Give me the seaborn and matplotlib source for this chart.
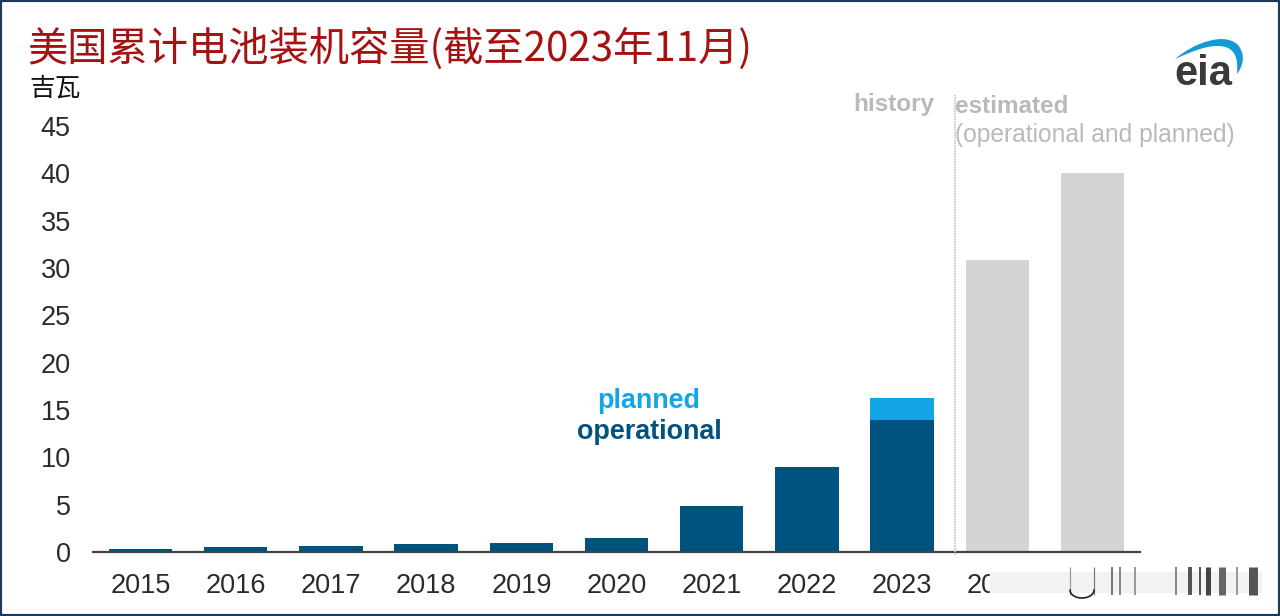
import numpy as np
import pandas as pd
import matplotlib.pyplot as plt
from matplotlib.patches import Rectangle, PathPatch
from matplotlib.path import Path
import seaborn as sns

years = ['2015', '2016', '2017', '2018', '2019', '2020', '2021', '2022', '2023', '2024', '2025']
operational = [0.35, 0.5, 0.6, 0.8, 1.0, 1.45, 4.9, 9.0, 13.9, 0, 0]
planned = [0, 0, 0, 0, 0, 0, 0, 0, 2.4, 0, 0]
estimated = [0, 0, 0, 0, 0, 0, 0, 0, 0, 30.8, 40.0]
yticks = [0, 5, 10, 15, 20, 25, 30, 35, 40, 45]

dark_blue = '#00537f'
light_blue = '#12a5e8'
grey_bar = '#d4d4d4'
grey_text = '#b9b9b9'
W, H = 1280, 616

sns.set_theme(style='white')
plt.rcParams['font.family'] = ['Liberation Sans', 'Noto Sans CJK SC', 'DejaVu Sans']

df = pd.DataFrame({'year': years, 'operational': operational, 'planned': planned, 'estimated': estimated})
df['total'] = df['operational'] + df['planned']

fig = plt.figure(figsize=(12.8, 6.16), dpi=100, facecolor='white')
ax = fig.add_axes([93 / W, 1 - 552 / H, (1140 - 93) / W, (552 - 126) / H])

bar_kw = dict(width=0.665, saturation=1, linewidth=0, edgecolor='none', ax=ax)
sns.barplot(data=df, x='year', y='total', color=light_blue, **bar_kw)
sns.barplot(data=df, x='year', y='operational', color=dark_blue, **bar_kw)
sns.barplot(data=df, x='year', y='estimated', color=grey_bar, **bar_kw)

ax.set_xlim(-0.5, 10.5)
ax.set_ylim(0, 45)
ax.set_yticks(yticks)
ax.set_xlabel('')
ax.set_ylabel('')
ax.tick_params(axis='x', labelsize=19.5, labelcolor='#2b2b2b', length=0, pad=15)
ax.tick_params(axis='y', labelsize=19.5, labelcolor='#2b2b2b', length=0, pad=16)
sns.despine(ax=ax, left=True)
ax.spines['bottom'].set_color('#444444')
ax.spines['bottom'].set_linewidth(1.6)
ax.patch.set_alpha(0)


def px(x, y):
    return x / W, 1 - y / H


fig.text(*px(27, 61), '美国累计电池装机容量(截至2023年11月)', fontsize=29, color='#a61212',
         family=['Noto Sans CJK SC', 'DejaVu Sans'])
fig.text(*px(29, 96), '吉瓦', fontsize=18.5, color='#111111', family=['Noto Sans CJK SC', 'DejaVu Sans'])

fig.text(*px(649, 408), 'planned', fontsize=19.4, fontweight='bold', color=light_blue, ha='center')
fig.text(*px(649, 439), 'operational', fontsize=19.4, fontweight='bold', color=dark_blue, ha='center')
fig.text(*px(853, 111), 'history', fontsize=17.5, fontweight='bold', color=grey_text)
fig.text(*px(955, 113), 'estimated', fontsize=17.5, fontweight='bold', color=grey_text)
fig.text(*px(955, 142), '(operational and planned)', fontsize=17.75, color=grey_text)

# history / estimate divider
fig.add_artist(plt.Line2D([955 / W, 955 / W], [1 - 555 / H, 1 - 95 / H], color='#c4c4c4', lw=1.2, ls=(0, (1, 0.6))))

# watermark smear over the last tick labels
fig.add_artist(Rectangle(px(990, 601), 272 / W, 36 / H, transform=fig.transFigure, color='white', zorder=5))
fig.add_artist(Rectangle(px(990, 593), 272 / W, 21 / H, transform=fig.transFigure, color='#f2f2f2', zorder=5, lw=0))
streaks = [(1070, 1.2, '#999999'), (1094, 1.2, '#777777'), (1112, 2, '#777777'), (1120, 2, '#888888'),
           (1135, 2, '#999999'), (1176, 2, '#888888'), (1190, 4, '#555555'), (1200, 2, '#555555'),
           (1208, 5, '#444444'), (1222, 7, '#666666'), (1237, 2, '#999999'), (1253, 9, '#555555')]
for sx, sw, sc in streaks:
    fig.add_artist(plt.Line2D([sx / W, sx / W], [1 - 595 / H, 1 - 567 / H], color=sc, lw=sw * 0.72,
                              solid_capstyle='butt', zorder=6))
theta = np.linspace(np.pi, 2 * np.pi, 40)
fig.add_artist(plt.Line2D((1082 + 12 * np.cos(theta)) / W, 1 - (590 - 8 * np.sin(theta)) / H,
                          color='#222222', lw=1.2, zorder=6))

# eia logo
fig.text(*px(1174, 85), 'eia', fontsize=30, fontweight='bold', color='#3a3a3a', zorder=7)
swoosh = [(1175, 59), (1195, 42), (1225, 32), (1238, 45), (1246, 55), (1243, 66), (1237, 74),
          (1238, 60), (1236, 52), (1228, 48), (1215, 42), (1195, 50), (1175, 59)]
swoosh = [px(*p) for p in swoosh]
codes = [Path.MOVETO] + [Path.CURVE4] * 12
fig.add_artist(PathPatch(Path(swoosh, codes), transform=fig.transFigure, facecolor='#159ad6', lw=0, zorder=7))

# picture border
fig.add_artist(Rectangle((0, 0), 1, 1, transform=fig.transFigure, fill=False, edgecolor='#1d3a5c', lw=3, zorder=8))

fig.savefig('out.png', dpi=100)
